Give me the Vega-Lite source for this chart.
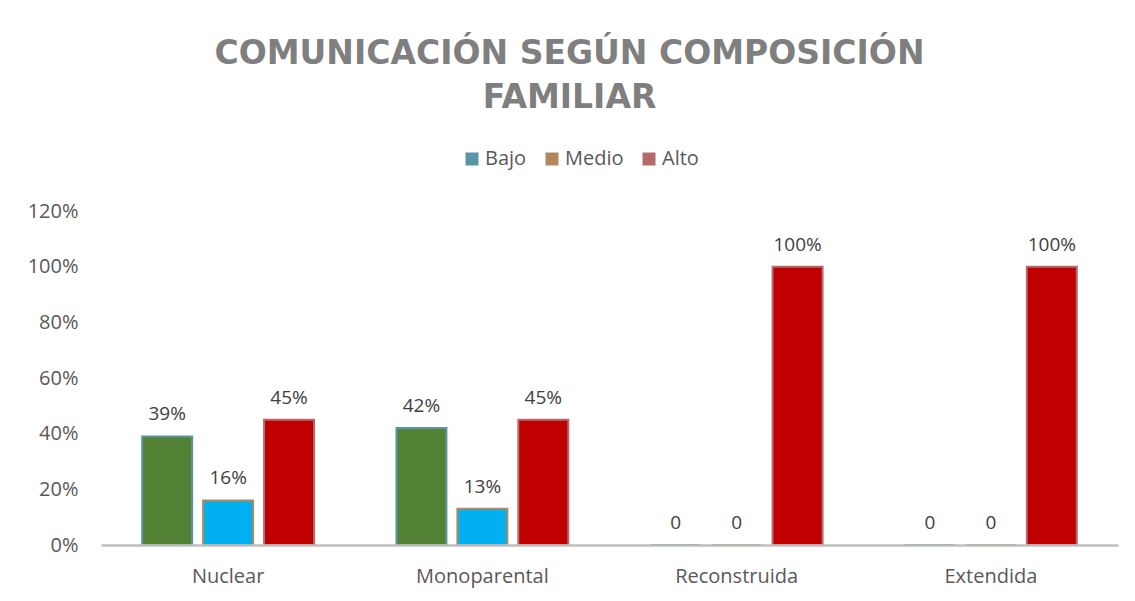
{
  "$schema": "https://vega.github.io/schema/vega-lite/v6.json",
  "width": 1017,
  "height": 334,
  "autosize": {"type": "none"},
  "padding": {"left": 101, "top": 211, "right": 17, "bottom": 56},
  "background": "white",
  "title": {
    "text": ["COMUNICACIÓN SEGÚN COMPOSICIÓN", "FAMILIAR"],
    "frame": "bounds",
    "anchor": "middle",
    "font": "DejaVu Sans",
    "fontSize": 33,
    "fontWeight": "bold",
    "color": "#7f7f7f",
    "lineHeight": 44,
    "offset": 34
  },
  "config": {
    "view": {"stroke": null}
  },
  "data": {
    "values": [
      {"composicion": "Nuclear", "nivel": "Bajo", "valor": 0.39, "label": "39%"},
      {"composicion": "Nuclear", "nivel": "Medio", "valor": 0.16, "label": "16%"},
      {"composicion": "Nuclear", "nivel": "Alto", "valor": 0.45, "label": "45%"},
      {"composicion": "Monoparental", "nivel": "Bajo", "valor": 0.42, "label": "42%"},
      {"composicion": "Monoparental", "nivel": "Medio", "valor": 0.13, "label": "13%"},
      {"composicion": "Monoparental", "nivel": "Alto", "valor": 0.45, "label": "45%"},
      {"composicion": "Reconstruida", "nivel": "Bajo", "valor": 0, "label": "0"},
      {"composicion": "Reconstruida", "nivel": "Medio", "valor": 0, "label": "0"},
      {"composicion": "Reconstruida", "nivel": "Alto", "valor": 1.0, "label": "100%"},
      {"composicion": "Extendida", "nivel": "Bajo", "valor": 0, "label": "0"},
      {"composicion": "Extendida", "nivel": "Medio", "valor": 0, "label": "0"},
      {"composicion": "Extendida", "nivel": "Alto", "valor": 1.0, "label": "100%"}
    ]
  },
  "encoding": {
    "x": {
      "field": "composicion",
      "type": "nominal",
      "sort": ["Nuclear", "Monoparental", "Reconstruida", "Extendida"],
      "scale": {"paddingInner": 0.281, "paddingOuter": 0.1405},
      "axis": {
        "title": null,
        "labelAngle": 0,
        "labelFont": "Open Sans",
        "labelFontSize": 20,
        "labelColor": "#595959",
        "labelPadding": 21,
        "ticks": false,
        "domainColor": "#bfbfbf",
        "domainWidth": 2.5,
        "zindex": 1
      }
    },
    "xOffset": {
      "field": "nivel",
      "type": "nominal",
      "sort": ["Bajo", "Medio", "Alto"],
      "scale": {"paddingInner": 0.18, "paddingOuter": 0.09}
    },
    "y": {
      "field": "valor",
      "type": "quantitative",
      "scale": {"domain": [0, 1.2]},
      "axis": {
        "title": null,
        "format": ".0%",
        "values": [0, 0.2, 0.4, 0.6, 0.8, 1.0, 1.2],
        "grid": false,
        "domain": false,
        "ticks": false,
        "labelPadding": 23,
        "labelFont": "Open Sans",
        "labelFontSize": 20,
        "labelColor": "#595959",
        "minExtent": 80,
        "maxExtent": 80
      }
    }
  },
  "layer": [
    {
      "mark": {"type": "bar", "strokeWidth": 0},
      "encoding": {
        "fill": {
          "condition": [
            {"test": "datum.nivel === 'Bajo'", "value": "#548235"},
            {"test": "datum.nivel === 'Medio'", "value": "#00b0f0"}
          ],
          "value": "#c00000"
        }
      }
    },
    {
      "mark": {"type": "bar", "fill": "transparent", "strokeWidth": 2},
      "encoding": {
        "stroke": {
          "field": "nivel",
          "type": "nominal",
          "scale": {"domain": ["Bajo", "Medio", "Alto"], "range": ["#5b94a6", "#b0885c", "#b36a6c"]},
          "legend": {
            "title": null,
            "orient": "none",
            "legendX": 361,
            "legendY": -62,
            "direction": "horizontal",
            "symbolType": "square",
            "symbolSize": 36,
            "symbolStrokeWidth": 7,
            "labelFont": "Open Sans",
            "labelFontSize": 20,
            "labelColor": "#595959",
            "columnPadding": 8,
            "labelOffset": 3
          }
        }
      }
    },
    {
      "mark": {"type": "text", "baseline": "bottom", "dy": -12, "font": "Open Sans", "fontSize": 19, "color": "#404040"},
      "encoding": {
        "text": {"field": "label", "type": "nominal"}
      }
    }
  ]
}
